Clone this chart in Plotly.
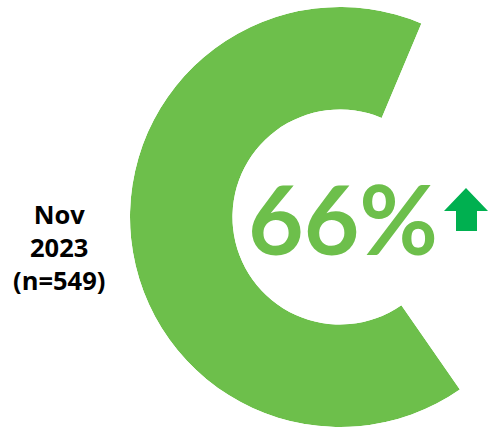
import math
import plotly.graph_objects as go

# Survey result
period_label = ["Nov", "2023", "(n=549)"]
share_pct = [66]          # share shown as the ring segment
ring_center_deg = 186      # middle of the segment (0 = east, counter-clockwise)

GREEN = "#6DBF4B"
ARROW_GREEN = "#00B050"

W, H = 490, 427
ring_left_px, ring_top_px, ring_radius_px = 130, 7, 210
hole_frac = 0.512

seg_width = share_pct[0] * 3.6
seg_start = ring_center_deg - seg_width / 2
seg_end = ring_center_deg + seg_width / 2

# the polar sector's bounding box decides where the ring lands on the page
right_ext = max(math.cos(math.radians(seg_start)), math.cos(math.radians(seg_end)), 0)
dx = 1 + right_ext
x0 = ring_left_px / W
x1 = (ring_left_px + dx * ring_radius_px) / W
y1 = 1 - ring_top_px / H
y0 = y1 - 2 * ring_radius_px / H

fig = go.Figure()
fig.add_trace(go.Barpolar(
    r=[1], theta=[ring_center_deg], width=[seg_width],
    marker=dict(color=GREEN, line=dict(width=0)),
    hoverinfo="skip", showlegend=False,
))

fig.update_layout(
    width=W, height=H,
    margin=dict(l=0, r=0, t=0, b=0),
    paper_bgcolor="white",
    polar=dict(
        domain=dict(x=[x0, x1], y=[max(y0, 0), y1]),
        sector=[seg_start, seg_end],
        hole=hole_frac,
        bgcolor="rgba(0,0,0,0)",
        radialaxis=dict(range=[0, 1], visible=False, showgrid=False),
        angularaxis=dict(visible=False, showgrid=False, showline=False,
                         rotation=0, direction="counterclockwise"),
    ),
    font=dict(family="Lato"),
)

# big percentage in the hole
fig.add_annotation(
    x=343 / W, y=1 - 217 / H, xref="paper", yref="paper",
    text=f"<b>{share_pct[0]}%</b>", showarrow=False,
    font=dict(size=96, color=GREEN, family="Lato"),
    xanchor="center", yanchor="middle",
)

# period label
fig.add_annotation(
    x=59 / W, y=1 - 247 / H, xref="paper", yref="paper",
    text="<b>" + "<br>".join(period_label) + "</b>", showarrow=False,
    font=dict(size=25.5, color="black", family="Open Sans"),
    xanchor="center", yanchor="middle", align="center",
)

# up arrow next to the percentage
def px(x, y):
    return f"{x / W},{1 - y / H}"

arrow = [(466, 188), (488, 211), (477, 211), (477, 231), (456, 231), (456, 211), (444, 211)]
path = "M " + " L ".join(px(x, y) for x, y in arrow) + " Z"
fig.add_shape(type="path", xref="paper", yref="paper", path=path,
              fillcolor=ARROW_GREEN, line=dict(width=0))

fig.write_html("out.html")
